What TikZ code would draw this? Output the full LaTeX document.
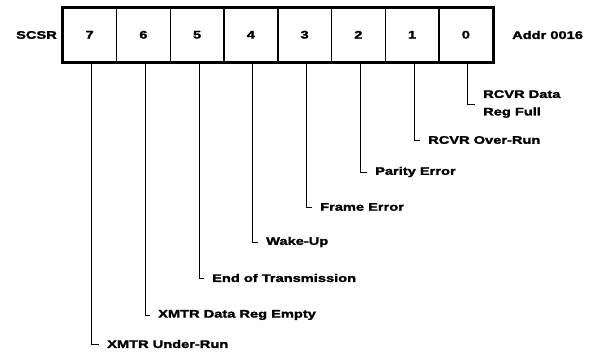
\documentclass[tikz,border=0pt]{standalone}
\usepackage{fontspec}
\newfontfamily\lbl{Liberation Sans}[FakeStretch=1.33, FakeBold=2]
\begin{document}
\begin{tikzpicture}[x=1pt,y=-1pt,
  font=\lbl\bfseries\fontsize{11}{17.5}\selectfont,
  cell/.style={draw, line width=1.5pt, minimum width=53.75pt, minimum height=54pt, inner sep=0pt, anchor=north west},
  lab/.style={anchor=west, inner sep=0pt, align=left},
  lead/.style={line width=0.8pt, shorten >=8pt}]
\useasboundingbox (0,0) rectangle (590,357);
\foreach \b [count=\i from 0] in {7,6,5,4,3,2,1,0}
  \node[cell] (c\b) at (62+\i*53.75, 7) {\b};
\draw[line width=2.2pt] (c7.north west) rectangle (c0.south east);
\node[anchor=east, inner sep=0pt] (scsr) at (57,35) {SCSR};
\node[anchor=west, inner sep=0pt] (addr) at (512,35) {Addr 0016};
\node[lab] (l0) at (483,104) {RCVR Data\\Reg Full};
\node[lab] (l1) at (428,140) {RCVR Over-Run};
\node[lab] (l2) at (375,172) {Parity Error};
\node[lab] (l3) at (320,207) {Frame Error};
\node[lab] (l4) at (266,242) {Wake-Up};
\node[lab] (l5) at (212,278) {End of Transmission};
\node[lab] (l6) at (158,315) {XMTR Data Reg Empty};
\node[lab] (l7) at (107,344) {XMTR Under-Run};
\foreach \b in {7,6,5,4,3,2,1,0}
  \draw[lead] ([xshift=2pt]c\b.south) |- (l\b.west);
\end{tikzpicture}
\end{document}
